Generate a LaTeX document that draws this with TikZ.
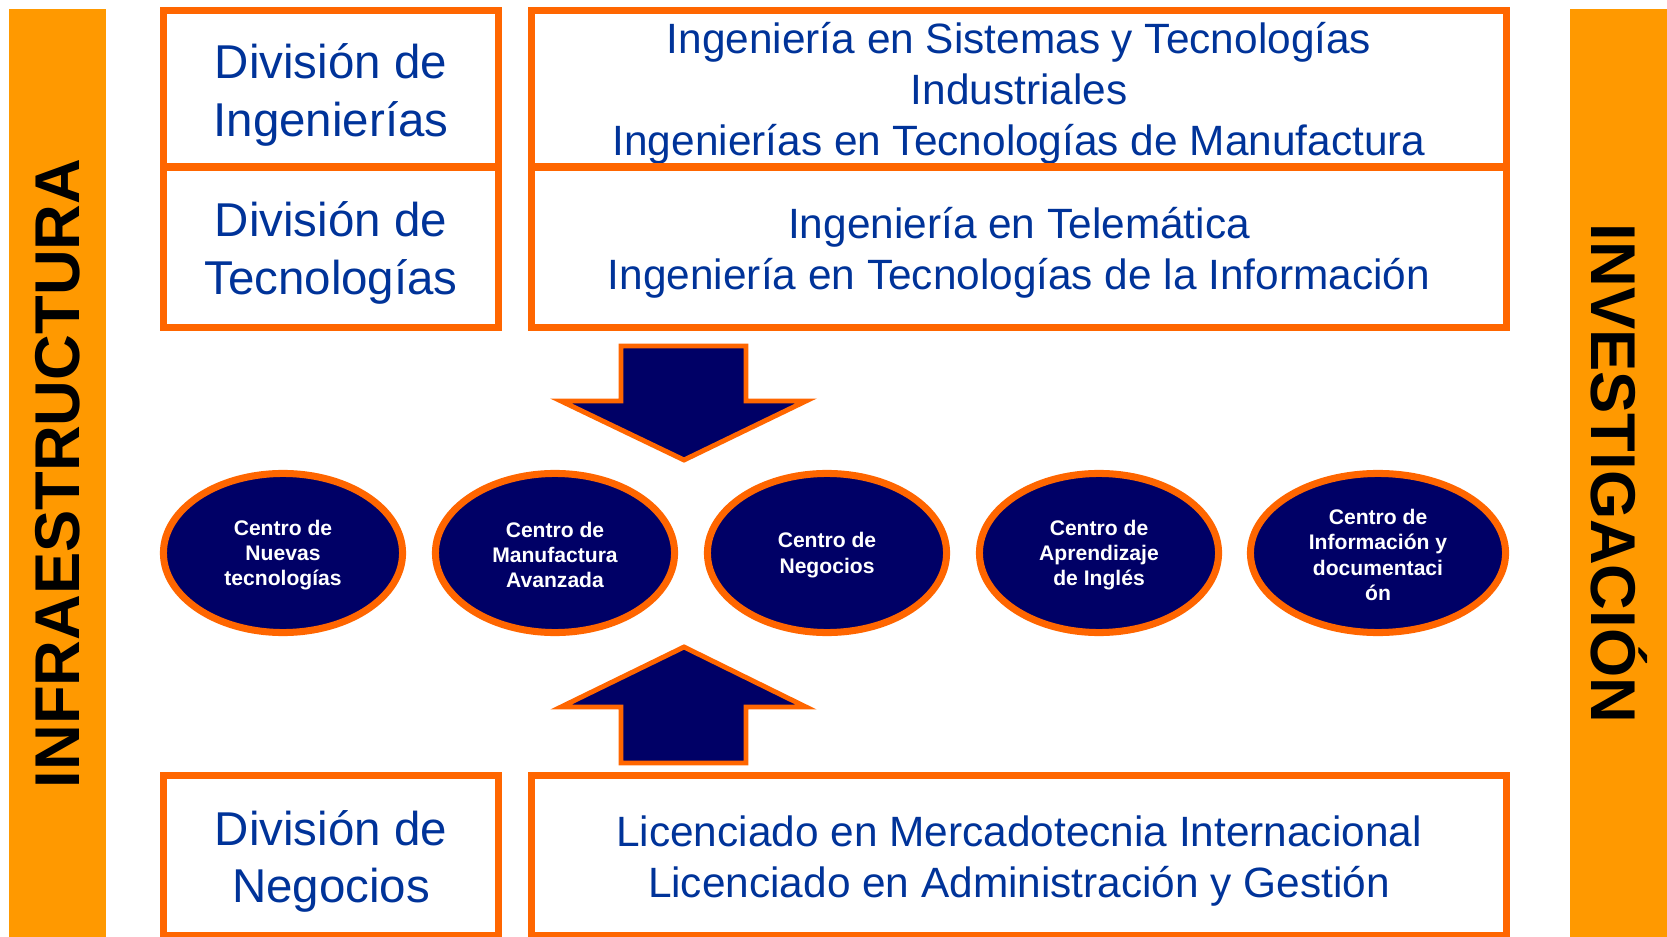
\documentclass[tikz,border=0pt]{standalone}
\usepackage{fontspec}
\setmainfont{Liberation Sans}
\usetikzlibrary{shapes.geometric}
\definecolor{barorange}{HTML}{FF9900}
\definecolor{lineorange}{HTML}{FF6600}
\definecolor{centronavy}{HTML}{000066}
\definecolor{textblue}{HTML}{003399}
\tikzset{
  divbox/.style={draw=lineorange, line width=2pt, inner sep=0pt},
  divtext/.style={text=textblue, align=center, inner sep=0pt, yshift=-0.06cm, font=\fontsize{13.5pt}{16.3pt}\selectfont},
  progtext/.style={divtext, font=\fontsize{12.05pt}{14.5pt}\selectfont},
  centro/.style={ellipse, draw=lineorange, line width=2pt, fill=centronavy, inner sep=0pt, minimum width=2.39cm, minimum height=1.59cm},
  centrotext/.style={text=white, align=center, inner sep=0pt, yshift=-0.02cm, font=\bfseries\fontsize{6pt}{7.2pt}\selectfont},
  sidebar/.style={fill=barorange, inner sep=0pt, minimum width=9.28cm, minimum height=0.97cm, font=\bfseries\fontsize{18pt}{20pt}\selectfont},
  bigarrow/.style={draw=lineorange, line width=1.4pt, fill=centronavy}
}
\begin{document}
\begin{tikzpicture}[x=0.01cm, y=-0.01cm]
    \useasboundingbox (0,0) rectangle (1667,937);
    \node[sidebar, rotate=90] at (57.5,473.5) (infra) {INFRAESTRUCTURA};
    \node[sidebar, rotate=-90] at (1619,473.5) (inves) {INVESTIGACIÓN};
    \node[divbox, minimum width=3.34cm, minimum height=1.57cm, label={[divtext]center:{División de\\Ingenierías}}] at (331,89) (ding) {};
    \node[divbox, minimum width=3.34cm, minimum height=1.60cm, label={[divtext]center:{División de\\Tecnologías}}] at (331,247) (dtec) {};
    \node[divbox, minimum width=3.34cm, minimum height=1.59cm, label={[divtext]center:{División de\\Negocios}}] at (331,855.5) (dneg) {};
    \node[divbox, minimum width=9.74cm, minimum height=1.57cm, label={[progtext, yshift=0.02cm]center:{Ingeniería en Sistemas y Tecnologías\\Industriales\\Ingenierías en Tecnologías de Manufactura}}] at (1019,89) (ping) {};
    \node[divbox, minimum width=9.74cm, minimum height=1.60cm, label={[progtext]center:{Ingeniería en Telemática\\Ingeniería en Tecnologías de la Información}}] at (1019,247) (ptec) {};
    \node[divbox, minimum width=9.74cm, minimum height=1.59cm, label={[progtext]center:{Licenciado en Mercadotecnia Internacional\\Licenciado en Administración y Gestión}}] at (1019,855.5) (pneg) {};
    \node[centro, label={[centrotext]center:{Centro de\\Nuevas\\tecnologías}}] at (283,553) (cnt) {};
    \node[centro, label={[centrotext]center:{Centro de\\Manufactura\\Avanzada}}] at (555,553) (cma) {};
    \node[centro, label={[centrotext]center:{Centro de\\Negocios}}] at (827,553) (cneg) {};
    \node[centro, label={[centrotext]center:{Centro de\\Aprendizaje\\de Inglés}}] at (1099,553) (cai) {};
    \node[centro, minimum width=2.55cm, label={[centrotext]center:{Centro de\\Información y\\documentaci\\ón}}] at (1378,553) (cid) {};
    \draw[bigarrow] (621,346) -- (746,346) -- (746,401) -- (806,401) -- (684,460) -- (561,401) -- (621,401) -- cycle;
    \draw[bigarrow] (621,763) -- (746,763) -- (746,707) -- (806,707) -- (684,647) -- (561,707) -- (621,707) -- cycle;
\end{tikzpicture}
\end{document}
